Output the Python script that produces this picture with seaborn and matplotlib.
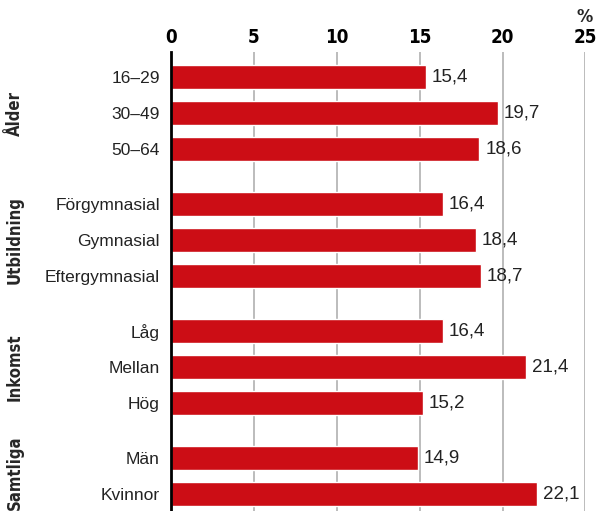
import matplotlib
matplotlib.use("Agg")
import matplotlib.pyplot as plt
import seaborn as sns
import pandas as pd

# data
categories = ["16–29", "30–49", "50–64",
              "Förgymnasial", "Gymnasial", "Eftergymnasial",
              "Låg", "Mellan", "Hög",
              "Män", "Kvinnor"]
values = [15.4, 19.7, 18.6, 16.4, 18.4, 18.7, 16.4, 21.4, 15.2, 14.9, 22.1]
groups = ["Ålder", "Utbildning", "Inkomst", "Samtliga"]
group_sizes = [3, 3, 3, 2]
xticks = [0, 5, 10, 15, 20, 25]

# row positions with a gap between groups
pos = []
group_mid = []
y = 0.0
for n in group_sizes:
    rows = [y + i for i in range(n)]
    pos += rows
    group_mid.append(sum(rows) / n)
    y = rows[-1] + 1.5

df = pd.DataFrame({"cat": categories, "val": values, "pos": pos})

sns.set_theme(style="white")
plt.rcParams["font.family"] = ["DejaVu Sans"]

fig = plt.figure(figsize=(5.98, 5.11), dpi=100)
ax = fig.add_axes([0.286, 0.0, 0.693, 0.898])

sns.barplot(data=df, x="val", y="pos", orient="h", native_scale=True,
            color="#cc0d15", width=0.66, saturation=1, ax=ax, zorder=3)

ax.set_xlim(0, 25)
ax.set_ylim(11.97, -0.68)
ax.set_yticks(pos)
ax.set_yticklabels(categories, fontsize=12.5, color="#222222",
                   family=["Liberation Sans", "DejaVu Sans"])
ax.set_xticks(xticks)
ax.set_xticklabels([str(t) for t in xticks], fontsize=13.5, fontweight="bold",
                   fontstretch="condensed", color="black")
ax.xaxis.tick_top()
ax.tick_params(axis="x", length=0, pad=4)
ax.tick_params(axis="y", length=0, pad=8)
ax.set_xlabel("")
ax.set_ylabel("")

ax.grid(axis="x", color="#b0b0b0", linewidth=1.2, zorder=0)
ax.grid(axis="y", visible=False)
for s in ["top", "right", "bottom"]:
    ax.spines[s].set_visible(False)
ax.spines["left"].set_color("black")
ax.spines["left"].set_linewidth(2)
ax.spines["left"].set_zorder(5)

for p, v in zip(pos, values):
    ax.text(v + 0.35, p, f"{v:.1f}".replace(".", ","), va="center", ha="left",
            fontsize=13.5, color="#222222", family=["Liberation Sans", "DejaVu Sans"])

for g, m in zip(groups, group_mid):
    yy = ax.transData.transform((0, m))[1] / 511
    if g == "Samtliga":
        yy = 1 - 473 / 511
    fig.text(15 / 598, yy, g, rotation=90, va="center", ha="center",
             fontsize=12, fontweight="bold", fontstretch="condensed")

fig.text(585 / 598, 1 - 17 / 511, "%", ha="center", va="center",
         fontsize=13, fontweight="bold", fontstretch="condensed")

fig.savefig("out.png", dpi=100)
